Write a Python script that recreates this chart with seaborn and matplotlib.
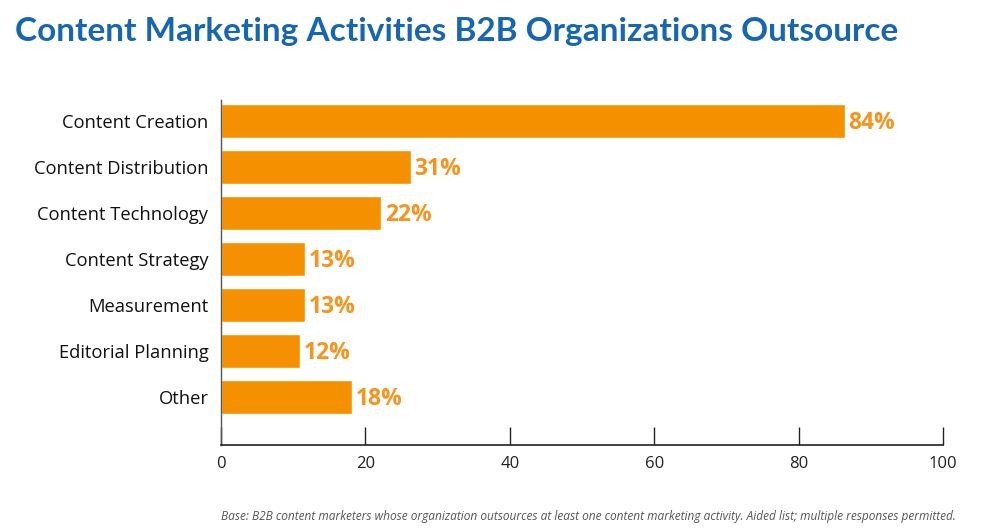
import pandas as pd
import seaborn as sns
import matplotlib.pyplot as plt

# Values as drawn (bar lengths) and the labels printed next to them
activities = ['Content Creation', 'Content Distribution', 'Content Technology',
              'Content Strategy', 'Measurement', 'Editorial Planning', 'Other']
bar_values = [86.4, 26.3, 22.2, 11.6, 11.7, 10.9, 18.1]
value_labels = ['84%', '31%', '22%', '13%', '13%', '12%', '18%']
x_ticks = [0, 20, 40, 60, 80, 100]

df = pd.DataFrame({'activity': activities, 'value': bar_values})

sns.set_style('white')
plt.rcParams['font.family'] = ['Open Sans', 'DejaVu Sans']

fig = plt.figure(figsize=(9.83, 5.32), dpi=100)
ax = fig.add_axes([0.2248, 0.1635, 0.7345, 0.6485])

sns.barplot(data=df, x='value', y='activity', color='#F59100', saturation=1,
            width=0.73, ax=ax)

# value labels at the bar ends
for i, (v, lab) in enumerate(zip(bar_values, value_labels)):
    ax.text(v + 0.5, i + 0.04, lab, va='center', ha='left', fontsize=16.5,
            fontweight='bold', color='#F7941D')

ax.set_xlim(0, 100)
ax.set_ylim(7.04, -0.46)
ax.set_xticks(x_ticks)
ax.set_xticklabels([str(t) for t in x_ticks], fontsize=12, color='#222222')
ax.set_xlabel('')
ax.set_ylabel('')
ax.tick_params(axis='y', length=0, labelsize=13.2, pad=9, labelcolor='#111111')
ax.tick_params(axis='x', bottom=True, direction='in', length=13, width=1,
               color='#222222', pad=8)

for side in ['top', 'right']:
    ax.spines[side].set_visible(False)
ax.spines['left'].set_color('#555555')
ax.spines['bottom'].set_color('#222222')
ax.spines['left'].set_linewidth(1)
ax.spines['bottom'].set_linewidth(1.2)

fig.text(0.015, 0.94, 'Content Marketing Activities B2B Organizations Outsource',
         fontsize=24, fontweight='bold', color='#1766B4', ha='left', va='center',
         family=['Lato', 'DejaVu Sans'])

fig.text(0.972, 0.03, 'Base: B2B content marketers whose organization outsources at least one '
         'content marketing activity. Aided list; multiple responses permitted.',
         fontsize=8.6, style='italic', color='#555555', ha='right', va='center')

plt.savefig('out.png', dpi=100)
